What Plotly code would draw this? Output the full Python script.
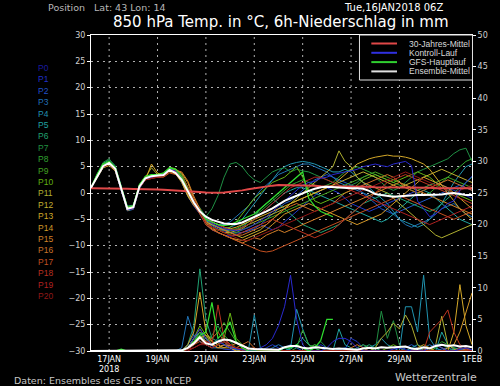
import plotly.graph_objects as go

# ---- time axis: 6-hourly steps from 16 JAN 2018 06Z (hours since start) ----
hours = list(range(0, 384, 6))          # 64 steps, last = 01 FEB 00Z
tick_hours = [18, 66, 114, 162, 210, 258, 306, 378]
tick_text = ["17JAN<br>2018", "19JAN", "21JAN", "23JAN", "25JAN", "27JAN", "29JAN", "1FEB"]
grid_hours = [18, 66, 114, 162, 210, 258, 306]

member_names = ["P0", "P1", "P2", "P3", "P4", "P5", "P6", "P7", "P8", "P9", "P10",
                "P11", "P12", "P13", "P14", "P15", "P16", "P17", "P18", "P19", "P20"]
member_colors = ["#2a2ad0", "#2038c8", "#2058c8", "#2074b8", "#2094b0", "#20a4a0", "#20a474",
                 "#209044", "#30a430", "#44a420", "#68b414", "#b0b030", "#c4b030", "#d4a828",
                 "#d49828", "#d48028", "#cc6c28", "#c45020", "#bc3420", "#b02222", "#901818"]
label_colors = ["#1a1aa0", "#2030c8", "#2050c8", "#2070b8", "#2090b0", "#20a0a0", "#20a070",
                "#209040", "#30a030", "#40a020", "#60b010", "#b0b030", "#c0b030", "#d0a828",
                "#d09828", "#d08028", "#c87028", "#c05020", "#b83020", "#b02020", "#901818"]

# ---- 850 hPa temperature (°C) per member ----
t_p0 = [1.0,3.0,5.2,5.8,4.5,0.5,-3.2,-3.0,1.0,2.7,3.0,3.3,3.6,4.5,4.2,3.0,0.4,-1.6,-3.3,
        -5.0,-5.8,-6.3,-6.8,-7.0,-7.2,-7.0,-6.6,-6.0,-5.3,-4.5,-3.5,-2.5,-1.5,-0.5,0.5,1.5,2.0,2.2,2.8,
        3.0,3.5,3.8,4.0,4.2,4.5,5.0,5.3,5.5,5.2,5.0,5.5,5.8,6.0,5.2,-1.5,-3.0,-4.5,-4.0,-3.0,-2.0,-1.5,0.5,2.0,3.2]
t_p1 = [1.0,3.3,5.0,5.4,4.8,1.0,-3.0,-2.5,1.5,2.9,3.2,3.0,3.2,4.3,3.8,2.0,-0.6,-2.5,-4.0,
        -6.0,-7.0,-7.5,-8.0,-8.2,-8.0,-7.5,-7.0,-6.5,-6.0,-6.5,-7.0,-6.5,-5.5,-4.5,-3.5,-2.5,-1.5,-0.5,0.5,
        1.0,0.5,0.0,-1.0,-2.0,-2.5,-3.0,-3.5,-3.0,-2.5,-2.0,-1.5,-1.0,-0.5,0.0,0.5,1.0,1.5,2.0,1.5,1.0,0.5,0.0,-0.5,-1.0]
t_p2 = [1.0,3.4,5.3,5.9,5.0,1.2,-2.6,-2.4,1.4,3.0,2.8,3.3,3.6,4.6,4.2,2.8,0.2,-2.2,-3.8,
        -5.5,-6.2,-6.8,-7.2,-7.5,-7.6,-7.5,-7.2,-6.8,-6.0,-5.0,-4.0,-3.0,-2.0,-1.5,-0.5,0.5,1.5,2.5,3.0,
        3.5,3.0,2.5,2.0,1.5,1.0,0.0,-1.0,-2.0,-3.0,-3.5,-4.0,-3.5,-3.0,-2.5,-2.0,-1.5,-1.0,-0.5,0.0,0.5,1.0,1.5,1.0,0.5]
t_p3 = [1.0,3.1,4.9,5.5,4.4,0.6,-3.4,-3.1,0.8,2.6,3.3,3.5,3.2,4.2,3.9,2.2,-0.3,-2.3,-3.7,
        -5.0,-5.5,-6.0,-6.0,-5.5,-4.5,-3.5,-2.5,-1.0,0.5,1.5,2.5,3.5,4.0,4.5,5.0,5.5,5.5,5.0,4.5,
        4.0,3.0,2.0,1.5,1.0,0.5,0.0,-0.5,-1.0,-2.0,-3.0,-4.0,-5.0,-6.0,-6.5,-6.0,-5.5,-5.0,-4.0,-3.0,-2.5,-2.0,-3.0,-4.0,-4.5]
t_p4 = [1.0,3.2,5.1,5.7,4.7,0.9,-2.8,-2.6,1.3,2.9,3.0,3.1,3.4,4.4,4.0,2.6,0.1,-2.0,-3.4,
        -5.0,-5.8,-6.5,-6.8,-6.5,-6.0,-5.0,-3.5,-2.0,-0.5,1.0,2.5,4.0,5.0,5.5,5.8,6.0,5.8,5.5,5.0,
        4.5,4.0,4.0,4.5,4.0,3.0,2.0,1.0,0.0,-1.0,-2.0,-3.5,-5.0,-5.5,-6.0,-6.5,-6.0,-5.0,-3.5,-2.0,0.0,2.0,3.5,5.0,5.5]
t_p5 = [1.0,3.0,4.8,5.3,4.3,0.5,-3.1,-2.9,1.1,2.7,3.2,3.4,3.5,4.5,4.1,2.4,-0.1,-2.1,-3.6,
        -5.2,-6.0,-6.5,-7.0,-7.2,-7.0,-6.5,-6.0,-5.0,-4.0,-3.0,-2.0,-1.0,0.0,0.5,1.0,1.0,0.5,0.0,-0.5,
        -1.0,-1.5,-2.0,-2.5,-3.0,-3.5,-4.0,-4.5,-5.0,-5.5,-5.0,-4.0,-3.0,-2.0,-1.0,0.0,0.5,0.0,-1.0,-2.0,-3.0,-4.0,-5.0,-5.5,-6.0]
t_p6 = [1.0,3.5,5.6,6.3,5.2,1.3,-2.5,-2.3,1.6,3.1,3.3,3.2,3.5,4.7,4.3,3.2,0.7,-1.5,-3.0,
        -4.8,-5.5,-6.0,-6.5,-7.0,-7.0,-6.5,-5.5,-4.5,-3.0,-2.0,-1.0,-2.0,-3.0,-4.0,-5.0,-6.0,-6.5,-7.0,-7.5,
        -7.0,-6.5,-6.0,-5.0,-4.0,-3.0,-2.0,-1.5,-1.0,-0.5,0.0,-0.5,-1.0,-1.5,-2.0,-2.5,-3.0,-3.5,-3.0,-2.0,-1.0,0.0,1.0,2.0,3.0]
t_p7 = [1.0,3.6,5.8,6.5,5.0,1.0,-2.7,-2.5,1.5,3.0,3.4,3.3,3.7,4.8,4.5,3.5,1.0,-1.2,-2.8,
        -4.5,-3.0,-0.5,3.0,5.5,5.8,5.0,3.5,2.5,2.0,3.0,4.0,4.5,4.8,4.0,4.5,4.2,4.0,3.5,3.0,
        2.5,2.0,1.5,1.0,1.5,2.0,3.0,3.5,3.0,2.0,1.0,0.5,1.0,2.0,3.0,4.0,4.5,5.0,5.5,6.0,6.5,7.5,8.2,8.5,6.0]
t_p8 = [1.0,3.3,5.2,5.8,4.6,0.8,-3.0,-2.8,1.2,2.8,3.1,3.3,3.4,4.4,4.0,2.5,-0.2,-2.0,-3.5,
        -5.5,-6.0,-6.5,-6.8,-7.0,-6.8,-6.2,-5.5,-4.5,-3.5,-2.5,-1.5,-0.5,0.5,1.5,2.0,2.5,2.0,1.5,1.0,
        1.5,2.0,3.0,4.0,4.5,5.0,4.5,4.0,3.5,3.0,2.5,2.0,1.5,1.0,0.5,0.0,-0.5,0.0,1.0,2.0,3.0,4.0,5.0,6.0,6.5]
t_p9 = [1.0,3.2,5.0,5.5,4.5,0.7,-2.9,-2.7,1.2,2.9,3.0,3.2,3.5,4.5,4.1,2.7,0.0,-1.9,-3.4,
        -6.0,-6.5,-7.0,-7.5,-7.8,-7.5,-7.0,-6.5,-6.0,-5.5,-5.0,-4.5,-4.0,-3.5,-3.0,-2.5,-2.0,-1.5,-1.0,-0.5,
        0.0,0.5,1.0,1.5,2.0,2.5,3.0,3.5,4.0,3.5,3.0,2.5,2.0,1.5,1.0,0.5,1.0,1.5,2.0,2.5,3.0,2.5,2.0,1.5,1.0]
t_p10 = [1.0,3.4,5.4,6.0,4.9,1.1,-2.7,-2.4,1.6,3.2,3.4,3.6,3.8,4.9,4.6,3.6,1.0,-1.5,-3.2,
         -5.5,-6.5,-7.0,-7.0,-6.5,-5.5,-4.0,-2.5,-1.0,0.0,1.0,2.0,2.5,3.0,4.0,5.0,3.0,0.5,-1.5,-2.0,
         -1.5,-1.0,-0.5,0.0,0.5,1.5,2.5,3.0,3.5,3.0,2.5,2.0,2.5,3.0,3.5,4.0,3.5,3.0,2.0,1.0,0.5,0.0,-0.5,-1.0,-1.5]
t_p11 = [1.0,3.1,4.9,5.4,4.5,0.7,-3.0,-2.8,1.3,3.0,4.8,3.5,3.3,4.2,3.8,2.3,-0.4,-2.2,-3.7,
         -5.8,-6.5,-7.0,-7.5,-7.5,-7.2,-6.8,-6.0,-5.5,-5.0,-4.5,-4.0,-3.5,-3.0,-2.0,-1.0,0.0,1.0,2.0,3.0,
         4.0,5.0,8.0,6.0,5.0,3.0,2.0,1.5,1.0,0.5,0.0,-1.0,-2.0,-3.0,-4.0,-5.0,-6.0,-7.0,-8.0,-8.5,-8.0,-7.5,-7.0,-6.5,-6.0]
t_p12 = [1.0,3.2,5.1,5.6,4.6,0.9,-2.9,-2.7,1.4,2.8,3.1,3.4,3.6,4.5,4.0,2.6,-0.1,-2.0,-3.5,
         -5.5,-6.0,-6.5,-7.0,-7.5,-8.0,-8.5,-8.0,-7.5,-7.0,-6.0,-5.0,-4.0,-3.0,-2.0,-1.5,-1.0,-0.5,0.0,0.5,
         1.0,1.5,2.0,2.5,3.0,3.5,4.0,3.5,3.0,2.5,2.0,1.5,1.0,1.5,2.0,2.5,3.0,3.5,4.0,4.5,4.0,3.5,3.0,2.5,2.0]
t_p13 = [1.0,3.0,4.8,5.2,4.2,0.6,-3.3,-3.0,1.0,2.5,5.5,3.8,3.2,4.0,3.6,2.0,-0.6,-2.4,-3.8,
         -5.0,-5.5,-6.0,-6.5,-6.8,-6.5,-6.0,-5.5,-5.0,-4.5,-4.0,-3.5,-3.0,-2.5,-2.0,-1.5,-1.0,-0.5,0.0,0.5,
         1.0,1.5,2.5,3.5,4.5,5.5,6.0,6.5,6.8,7.0,7.2,7.0,7.0,6.8,6.5,6.0,5.5,4.5,3.0,1.5,0.0,-1.5,-3.0,-4.0,-5.0]
t_p14 = [1.0,3.2,5.0,5.6,4.7,0.8,-2.9,-2.6,1.2,2.7,3.0,3.2,3.4,4.4,4.4,3.8,2.0,-1.0,-3.0,
         -6.0,-6.8,-7.5,-8.0,-8.5,-8.8,-9.0,-8.5,-8.0,-7.5,-7.0,-6.0,-5.0,-4.0,-3.5,-3.0,-2.5,-2.0,-2.5,-3.0,
         -3.5,-4.0,-4.5,-5.0,-5.5,-6.0,-5.5,-5.0,-4.5,-4.0,-3.0,-2.0,-1.0,0.0,1.0,2.0,3.0,2.5,2.0,1.5,1.0,0.0,-1.0,-2.0,-3.0]
t_p15 = [1.0,3.1,5.0,5.5,4.6,0.9,-3.0,-2.8,1.1,2.6,2.9,3.0,3.2,4.2,4.3,4.0,2.3,-0.6,-3.0,
         -5.5,-6.5,-7.5,-8.0,-8.5,-9.0,-9.5,-9.0,-8.5,-8.8,-8.0,-7.5,-7.0,-7.5,-7.0,-6.5,-6.0,-5.5,-5.0,-4.5,
         -4.0,-3.5,-3.0,-2.5,-2.0,-1.5,-1.0,-0.5,0.0,0.5,1.0,1.5,2.0,1.5,1.0,0.5,0.0,-0.5,-1.0,-1.5,-2.0,-2.5,-3.0,-3.5,-4.0]
t_p16 = [1.0,3.3,5.1,5.7,4.6,0.8,-2.9,-2.7,1.2,2.8,3.1,3.2,3.4,4.3,4.1,3.0,0.5,-1.8,-3.3,
         -5.0,-5.8,-6.5,-7.0,-7.5,-8.0,-8.0,-7.5,-7.0,-6.5,-6.0,-5.0,-4.0,-3.0,-2.5,-2.0,-2.5,-3.0,-3.5,-3.0,
         -2.5,-2.0,-1.0,0.0,0.5,1.0,1.5,2.0,2.5,3.0,3.5,3.0,2.0,1.0,0.5,0.0,0.5,1.0,1.5,2.0,2.5,2.0,1.5,1.0,0.5]
t_p17 = [1.0,3.2,5.0,5.5,4.5,0.7,-3.0,-2.8,1.0,2.5,2.8,3.0,3.0,3.8,3.5,2.5,0.2,-2.2,-4.0,
         -6.0,-7.0,-7.5,-8.0,-8.5,-9.0,-9.5,-10.0,-10.5,-11.0,-11.2,-11.0,-10.5,-10.0,-9.5,-9.0,-8.5,-8.0,-7.5,-7.0,
         -6.5,-6.0,-5.5,-5.0,-4.5,-4.0,-3.5,-3.0,-2.5,-2.0,-1.5,-1.0,-0.5,-1.0,-1.5,-2.0,-2.5,-3.0,-3.5,-4.0,-4.5,-5.0,-4.5,-4.0,-3.5]
t_p18 = [1.0,3.2,5.0,5.6,4.6,0.8,-3.0,-2.8,1.2,2.7,3.0,3.1,3.3,4.3,4.2,3.2,1.2,-1.2,-3.2,
         -5.5,-6.5,-7.0,-7.5,-8.0,-8.0,-7.5,-7.0,-6.5,-6.0,-5.5,-5.0,-5.5,-6.0,-6.5,-7.0,-7.5,-8.0,-8.5,-8.0,
         -7.5,-7.0,-6.0,-5.0,-4.0,-3.0,-2.0,-1.0,0.0,1.0,2.0,2.5,3.0,3.5,3.0,2.5,2.0,1.5,1.0,0.5,0.0,-0.5,-1.0,-1.5,-2.0]
t_p19 = [1.0,3.1,4.9,5.5,4.5,0.7,-3.1,-2.9,1.0,2.6,2.9,3.0,3.3,4.2,4.0,2.6,0.0,-2.0,-3.4,
         -5.0,-5.5,-6.0,-6.5,-7.0,-7.0,-6.5,-6.0,-5.0,-4.0,-3.0,-2.0,-1.0,0.0,1.0,1.5,2.0,2.5,3.0,3.0,
         2.5,2.0,1.5,1.0,0.5,0.0,-0.5,-1.0,-1.5,-2.0,-2.5,-3.0,-3.5,-4.0,-4.5,-5.0,-5.5,-6.0,-5.5,-5.0,-4.5,-4.0,-3.5,-3.0,-2.5]
t_p20 = [1.0,3.0,4.9,5.4,4.4,0.6,-3.2,-3.0,0.9,2.5,2.8,3.0,3.2,4.1,3.9,2.7,0.2,-2.0,-3.6,
         -6.0,-6.5,-7.0,-7.5,-8.0,-8.5,-9.0,-9.0,-8.5,-8.0,-7.5,-7.0,-6.5,-6.0,-5.5,-5.0,-4.5,-4.0,-3.5,-3.0,
         -2.5,-2.0,-1.5,-1.0,-0.5,0.0,0.5,1.0,1.5,2.0,2.5,3.0,3.5,4.0,3.5,3.0,2.5,2.0,1.5,1.0,0.5,0.0,0.5,1.0,1.5]

# GFS main run (only to +240 h)
t_main = [1.0,3.5,5.5,6.0,4.8,1.0,-2.8,-2.5,1.5,3.2,3.5,3.5,3.8,4.8,4.5,3.0,0.5,-1.8,-3.4,
          -5.0,-5.5,-6.0,-6.2,-6.0,-5.5,-5.0,-4.5,-4.0,-3.0,-2.0,-1.0,0.0,1.0,2.0,3.0,4.0,-1.0,-2.5,-3.5,-4.0,-4.5]
# ensemble mean
t_mean = [1.0,3.2,5.1,5.7,4.6,0.8,-3.0,-2.7,1.2,2.8,3.2,3.3,3.4,4.4,3.8,2.5,0.3,-1.8,-3.5,
          -4.5,-5.1,-5.5,-5.8,-5.9,-5.9,-5.6,-5.1,-4.6,-4.1,-3.5,-2.9,-2.2,-1.5,-1.0,-0.5,0.0,0.4,0.8,1.1,
          1.2,1.1,1.0,0.9,0.9,0.9,0.8,0.4,-0.2,-0.4,-0.6,-0.7,-0.6,-0.5,-0.4,-0.4,-0.4,-0.4,-0.4,-0.3,-0.1,0.0,-0.2,-0.4,-0.4]
# 30-year climatological mean
t_clim = [0.9,0.9,0.9,0.85,0.85,0.8,0.8,0.75,0.75,0.7,0.7,0.65,0.6,0.55,0.5,0.45,0.4,0.3,0.2,0.1,0.05,0.05,
          0.1,0.2,0.3,0.5,0.7,0.9,1.1,1.3,1.4,1.5,1.5,1.5,1.5,1.5,1.4,1.4,1.3,1.3,1.3,1.3,1.2,1.2,1.2,1.2,
          1.2,1.1,1.1,1.1,1.1,1.1,1.0,1.0,1.0,1.0,1.0,0.9,0.9,0.9,0.9,0.9,0.9,0.9]

# ---- 6h precipitation (mm) per member ----
dry = [0]*15
r_p0 = dry + [0,0.5,2,3.5,2, 1,1.5,1,0.5,0.3, 0.2,0,0,0.5,1, 2,4,7,12,5, 1,0,0,0,0.5, 1.5,2,2,1.5,0.5,
              0,0,0,0,0, 0.3,0.5,0.2,0,0, 0,0.5,1,0.5,0, 0,0.3,0.5,0.2]
r_p1 = dry + [0,0.3,1,2,1.5, 0.8,0.5,0.3,0.2,0, 0,0,0,0,0.5, 1,0.5,0,0,0, 0,0,0.5,1,0.5, 0,0,0.3,2,1.5,
              0.5,0,0,0,0, 0,0,0,0.2,0.5, 0.3,0,0,0,0, 0.2,0.5,0.3,0]
r_p2 = dry + [0,1,2.5,1.5,1, 0.5,1,1.5,0.8,0.3, 0,0,0,0,0, 0,0,0.5,1,0.5, 0,0,0,0,0, 0,0,0,0,0.5,
              1,0.5,0,0,0, 0,0,0.5,1,0.5, 0,0,0,0.3,0.5, 0.2,0,0,0]
r_p3 = dry + [0.5,5.5,2.5,1.5,1, 0.5,0.5,1,0.5,0.2, 0,0,0,0,0, 0.5,1,0.5,0,0, 0,0,0,0,0, 0,0.3,0.5,0.3,0,
              0,0,0,0,0, 0,0,0,0,0, 0.5,1,0.5,0,0, 0,0,0,0]
r_p4 = dry + [0,0.5,1.5,3,2, 1,0.5,1,0.5,0.3, 0.2,0,5.7,0.5,0, 0,0,0,0.5,6.6, 3.5,1,0.5,0,0, 0,0.3,0,0,0,
              0,0.5,1,2,1, 0.5,0,7,7,3, 12,2,0.5,0,0, 0.3,0.5,0.2,0]
r_p5 = dry + [0,0.5,2,3,1.5, 1,2,1,0.5,0.2, 0,0,0,0,0, 0,0,0,0.3,1, 2,1,0.5,0,0, 0,3.5,1,0.5,0,
              0,0,0,0,0, 0,0,0,0.5,1, 0.5,0,0,3,1, 0.5,0.3,0,0]
r_p6 = dry + [0,1,4,13,5, 2,1.5,2,1,0.5, 0.2,0,0,0,0, 0,0,0,0,0, 0,0.5,1,0.5,0, 0,0,0,0,0,
              0.5,1,0.5,0,0, 0,0,0,0,0, 0,0.5,1,0.5,0, 0,0,0.3,0.2]
r_p7 = dry + [0,0.5,1.5,2,1.5, 2.5,4,2,1,0.5, 0,0,0,0,0, 0,0,0,0,0, 0,0,0.5,1.5,0.5, 0,0,0,0,0,
              0,0,0,6.3,2, 4.8,1,0,0,0, 0,0,0.5,1,0.5, 0,0,0,0]
r_p8 = dry + [0,0.3,1,2,3, 1.5,1,2.5,1.5,0.5, 0.2,0,0,0,0, 0,0,0,0,0.5, 3.3,1,0.5,0,0, 0,0,0,0,0.5,
              1,0.5,0,0,0, 0,0,0,0,0, 0,0,0.5,1.5,1, 0.5,0,0,0]
r_p9 = dry + [0,0.5,1.5,3,2.5, 2,3,4.5,3,1.5, 0.5,0,0,0,0, 0,0,0,0,0, 0,0.5,1,0.5,0, 0,0,0,0,0,
              0,0,0,0,0, 0,0,0,0,0.3, 0.5,0,0,0,0, 0,0,0.2,0]
r_p10 = dry + [0,0.5,2,4,2.5, 1,1.5,2,6,2, 1,0.5,0,0,0, 0,0,0,0,0, 0,0,0,0,0, 0,0,0,0,0,
               0,0,0,0,0.5, 1,0.5,0,0,0, 0,0,0,0,0, 0,0,0,0]
r_p11 = dry + [0,0.3,1,2.5,1.5, 1,0.5,0.5,1,0.5, 0,0,0,0,0, 0,0,0,0,0, 0,0,0,0,0, 0,0,0,0,0,
               0,0,0.5,2,3, 4.4,3.5,5.7,4,1, 0,0,1,5.5,1, 0.3,0,0,0]
r_p12 = dry + [0,0.5,2,3.5,2, 1,0.5,1,0.5,0, 0,0,0,0,0, 0,0,0,0,0, 0,0,0,0,0, 0,0,0,0,0,
               0,0,0,0,0, 0,0,0,0,0, 0,0.5,1,0.5,0, 0,0,0.3,0]
r_p13 = dry + [0,1,3,9.3,3, 1.5,1,2,1,0.5, 0,0,0,0,0, 0,0,0,0,0, 0,0,0,0,0, 0,0,0,0,0,
               0,0,0,0,0, 0,0,0,0,0.5, 1,0.5,0,0,0, 3,10.5,4,1]
r_p14 = dry + [0,0.5,1.5,2,2.5, 1.5,1,0.5,0.5,0, 0,0,0,0,0, 0,0,0,0,0, 0,0,0,0,0, 0,0,0,0,0,
               0,0,0,0,0, 0,0,0,0,0, 0,0,0,0,0.5, 1,3,6,9.2]
r_p15 = dry + [0,0.5,1,2,1.5, 1,0.5,1,0.8,1.2, 0.8,0.5,0.3,0,0, 0,0,0,0,0, 0,0,0,0,0, 0,0,0,0,0,
               0,0,0,0,0, 0,0,0,0,0, 0,0,0,0,0, 0,0,0,0]
r_p16 = dry + [0,0.3,1,2,1, 0.5,1,1.5,0.5,0.5, 1,1.5,0.5,0,0, 0,0,0,0,0, 0,0,0,0,0, 0,0,0,0.5,1,
               0.5,0,0,0,0, 0,0,0,0,0, 0,0,0,0,0, 0,0,0,0]
r_p17 = dry + [0,0.5,1,1.5,1, 2,3,1.5,1,0.5, 0,0.3,0.5,0,0, 0,0,0,0,0, 0,0,0,0,0, 0,0,0,0,0,
               0,0,0,0,0, 0,0,0,0,0, 0,0,0,0,0, 0,0,0,0]
r_p18 = dry + [0,0.3,1,2,1.5, 1,7.3,2,1,0.5, 0.3,0,0,0,0, 0,0,0,0,0, 0,0,0,0,0, 0,0,0,0,0,
               0,0,0,0,0, 0,0,0,0,0, 0,3,4,5,6.5, 3,1,0.5,0]
r_p19 = dry + [0,0,0.5,1,1.5, 1,1.5,2,1,0.5, 0.3,0,0,0,0, 0,0,0,0,0, 0,0,0,0,0, 0,0,0,0,0,
               0,0,0,0,0, 0,0,0,0,0, 0,0,0,0,0, 0,0.5,0.3,0]
r_p20 = dry + [0,0.3,0.5,1,1, 0.5,1,1.5,1,0.5, 0,0,0,0,0, 0,0,0,0,0, 0,0,0,0,0, 0,0,0,0,0,
               0,0,0,0,0, 0,0,0,0,0, 0,0,0,0,0, 0,0,0,0]
r_main = [0,0,0,0,0,0.3,0,0,0,0,0,0,0,0,0,
          0,0.5,1.5,2.5,3,7.7,2,3,4.6,1.5,0.5,0,0,0,0,0,0,0.5,0.5,1,0.5,0,0.5,1.7,5,5]
r_mean = dry + [0.1,0.5,1.2,2.2,1.2, 1.0,1.5,1.8,1.7,1.3, 0.8,0.4,0.3,0.3,0.2, 0.3,0.2,0.6,0.8,0.8,
                0.5,0.4,0.6,0.5,0.4, 0.3,0.4,0.3,0.3,0.2, 0.4,0.5,0.4,0.6,0.5, 0.6,0.6,0.7,0.4,0.3,
                0.6,0.4,0.8,1.0,0.8, 0.9,0.7,0.8,0.6]

t_members = [t_p0, t_p1, t_p2, t_p3, t_p4, t_p5, t_p6, t_p7, t_p8, t_p9, t_p10,
             t_p11, t_p12, t_p13, t_p14, t_p15, t_p16, t_p17, t_p18, t_p19, t_p20]
r_members = [r_p0, r_p1, r_p2, r_p3, r_p4, r_p5, r_p6, r_p7, r_p8, r_p9, r_p10,
             r_p11, r_p12, r_p13, r_p14, r_p15, r_p16, r_p17, r_p18, r_p19, r_p20]

legend_names = ["30-Jahres-Mittel", "Kontroll-Lauf", "GFS-Hauptlauf", "Ensemble-Mittel"]
legend_colors = ["#e04848", "#3030e0", "#30d030", "#e0e0e0"]

# ---- layout geometry (pixels) ----
W, H = 500, 386
L, R, T, B = 91, 23, 35, 35
PW, PH = W - L - R, H - T - B
FONT = "DejaVu Sans"
FONT2 = "Liberation Sans"


def px(x):
    return (x - L) / PW


def py(y):
    return (H - B - y) / PH


fig = go.Figure()

# precipitation lines (right axis)
for name, col, vals in zip(member_names[1:], member_colors[1:], r_members[1:]):
    fig.add_trace(go.Scatter(x=hours[:len(vals)], y=vals, yaxis="y2", mode="lines",
                             line=dict(color=col, width=1), hoverinfo="skip"))
fig.add_trace(go.Scatter(x=hours[:len(r_p0)], y=r_p0, yaxis="y2", mode="lines",
                         line=dict(color=member_colors[0], width=1), hoverinfo="skip"))
fig.add_trace(go.Scatter(x=hours[:len(r_main)], y=r_main, yaxis="y2", mode="lines",
                         line=dict(color="#30e030", width=1.2), hoverinfo="skip"))
fig.add_trace(go.Scatter(x=hours[:len(r_mean)], y=r_mean, yaxis="y2", mode="lines",
                         line=dict(color="#ffffff", width=2), hoverinfo="skip"))

# temperature lines (left axis)
for name, col, vals in zip(member_names[1:], member_colors[1:], t_members[1:]):
    fig.add_trace(go.Scatter(x=hours[:len(vals)], y=vals, mode="lines",
                             line=dict(color=col, width=1), hoverinfo="skip"))
fig.add_trace(go.Scatter(x=hours[:len(t_p0)], y=t_p0, mode="lines",
                         line=dict(color=member_colors[0], width=1), hoverinfo="skip"))
fig.add_trace(go.Scatter(x=hours[:len(t_main)], y=t_main, mode="lines",
                         line=dict(color="#30e030", width=1.2), hoverinfo="skip"))
fig.add_trace(go.Scatter(x=hours[:len(t_clim)], y=t_clim, mode="lines",
                         line=dict(color="#e04848", width=2), hoverinfo="skip"))
fig.add_trace(go.Scatter(x=hours[:len(t_mean)], y=t_mean, mode="lines",
                         line=dict(color="#ffffff", width=2), hoverinfo="skip"))

shapes = []
# vertical dotted grid at date ticks
for h in grid_hours:
    shapes.append(dict(type="line", xref="x", yref="paper", x0=h, x1=h, y0=0, y1=1,
                       line=dict(color="#b0b0b0", width=1, dash="2px,4px"), layer="below"))
# legend box
shapes.append(dict(type="rect", xref="paper", yref="paper", x0=px(363), x1=px(477.5),
                   y0=py(80), y1=py(35), line=dict(color="#e0e0e0", width=1), fillcolor="#000000"))
annotations = []
for k, (nm, col) in enumerate(zip(legend_names, legend_colors)):
    yy = 43.5 + k * 9.3
    shapes.append(dict(type="line", xref="paper", yref="paper", x0=px(375), x1=px(401),
                       y0=py(yy), y1=py(yy), line=dict(color=col, width=2)))
    annotations.append(dict(x=px(411), y=py(yy), xref="paper", yref="paper", text=nm,
                            showarrow=False, xanchor="left", yanchor="middle",
                            font=dict(family=FONT2, size=8.5, color="#d8d8d8")))

# member labels on the left
for k, (nm, col) in enumerate(zip(member_names, label_colors)):
    yy = 68 + k * 11.4
    annotations.append(dict(x=px(35), y=py(yy), xref="paper", yref="paper", text=nm,
                            showarrow=False, xanchor="left", yanchor="middle",
                            font=dict(family=FONT2, size=8.5, color=col)))

# header / footer texts
annotations += [
    dict(x=px(45), y=py(8), xref="paper", yref="paper", text="Position&nbsp;&nbsp;&nbsp;Lat: 43 Lon: 14",
         showarrow=False, xanchor="left", yanchor="middle",
         font=dict(family=FONT, size=9.5, color="#b8b8b8")),
    dict(x=px(450), y=py(8), xref="paper", yref="paper", text="Tue,16JAN2018 06Z",
         showarrow=False, xanchor="right", yanchor="middle",
         font=dict(family=FONT, size=10, color="#ffffff")),
    dict(x=px(283), y=py(22), xref="paper", yref="paper",
         text="850 hPa Temp. in °C, 6h-Niederschlag in mm",
         showarrow=False, xanchor="center", yanchor="middle",
         font=dict(family=FONT, size=15, color="#ffffff")),
    dict(x=px(11), y=py(380), xref="paper", yref="paper", text="Daten: Ensembles des GFS von NCEP",
         showarrow=False, xanchor="left", yanchor="middle",
         font=dict(family=FONT, size=9.5, color="#c8c8c8")),
    dict(x=px(484), y=py(377), xref="paper", yref="paper", text="Wetterzentrale",
         showarrow=False, xanchor="right", yanchor="middle",
         font=dict(family=FONT, size=11, color="#c8c8c8")),
]

fig.update_layout(
    width=W, height=H,
    margin=dict(l=L, r=R, t=T, b=B, pad=0),
    paper_bgcolor="#000000", plot_bgcolor="#000000",
    showlegend=False,
    font=dict(family=FONT, size=8, color="#e0e0e0"),
    xaxis=dict(range=[0, 378], tickmode="array", tickvals=tick_hours, ticktext=tick_text,
               showgrid=False, zeroline=False, showline=True, linecolor="#ffffff", linewidth=1,
               mirror=True, ticks="", tickfont=dict(family=FONT, size=8, color="#ffffff")),
    yaxis=dict(range=[-30, 30], tickmode="array", tickvals=list(range(-30, 31, 5)),
               showgrid=True, gridcolor="#b0b0b0", griddash="2px,4px", gridwidth=1,
               zeroline=False, showline=True, linecolor="#ffffff", linewidth=1,
               ticks="outside", ticklen=3, tickcolor="#ffffff",
               tickfont=dict(family=FONT, size=8, color="#d0d0d0")),
    yaxis2=dict(range=[0, 50], overlaying="y", side="right", tickmode="array",
                tickvals=list(range(0, 51, 5)), showgrid=False, zeroline=False,
                showline=True, linecolor="#ffffff", linewidth=1,
                ticks="outside", ticklen=3, tickcolor="#ffffff",
                tickfont=dict(family=FONT, size=8, color="#d0d0d0")),
    shapes=shapes, annotations=annotations,
)

fig.write_html("out.html",
               config={"displayModeBar": False},
               post_script="document.body.style.margin='0';document.body.style.padding='0';"
                           "document.body.style.background='#000';")
